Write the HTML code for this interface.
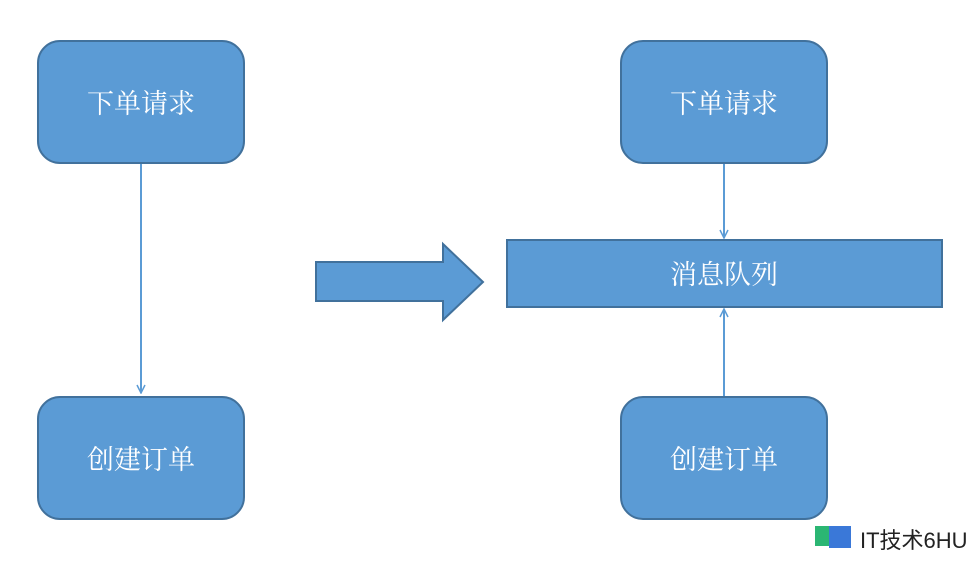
<!DOCTYPE html>
<html><head><meta charset="utf-8"><style>
body{margin:0;width:976px;height:558px;background:#fff;overflow:hidden}
</style></head><body>
<svg width="976" height="558" xmlns="http://www.w3.org/2000/svg" font-family="'Noto Serif CJK SC','Noto Sans CJK SC',serif" font-size="27" fill="#fff">
<defs><marker id="a" markerWidth="10" markerHeight="10" refX="9" refY="5" orient="auto" markerUnits="userSpaceOnUse"><path d="M1,1 L9,5 L1,9" fill="none" stroke="#5b9bd5" stroke-width="1.5"/></marker></defs>
<g fill="#5b9bd5" stroke="#41719c" stroke-width="2">
<rect x="38" y="41" width="206" height="122" rx="22"/>
<rect x="38" y="397" width="206" height="122" rx="22"/>
<rect x="621" y="41" width="206" height="122" rx="22"/>
<rect x="621" y="397" width="206" height="122" rx="22"/>
<rect x="507" y="240" width="435" height="67"/>
<path d="M316,262 L443,262 L443,244 L483,282 L443,320 L443,301 L316,301 Z"/>
</g>
<g stroke="#5b9bd5" stroke-width="2" fill="none">
<line x1="141" y1="164" x2="141" y2="393" marker-end="url(#a)"/>
<line x1="724" y1="164" x2="724" y2="238" marker-end="url(#a)"/>
<line x1="724" y1="396" x2="724" y2="309" marker-end="url(#a)"/>
</g>
<g text-anchor="middle">
<text x="141" y="113">下单请求</text>
<text x="141" y="469">创建订单</text>
<text x="724" y="113">下单请求</text>
<text x="724" y="469">创建订单</text>
<text x="724" y="284">消息队列</text>
</g>
<rect x="815" y="526" width="18" height="20" fill="#2bb673"/>
<rect x="829" y="526" width="22" height="22" fill="#3a78d8"/>
<text x="860" y="548" font-family="'Liberation Sans','Noto Sans CJK SC',sans-serif" font-size="22" fill="#222">IT技术6HU</text>
</svg>
</body></html>
